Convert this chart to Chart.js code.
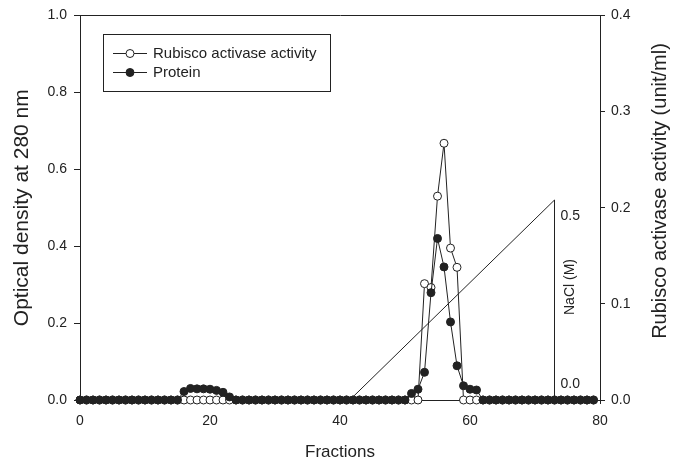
<!DOCTYPE html>
<html>
<head>
<meta charset="utf-8">
<script src="https://cdn.jsdelivr.net/npm/chart.js@4"></script>
<style>
  body { margin: 0; background: #fff; }
  #wrap { width: 680px; height: 467px; }
</style>
</head>
<body>
<div id="wrap"><canvas id="myChart"></canvas></div>
<script>
// Fraksi (sumbu X)
const fractions = [
  0, 1, 2, 3, 4, 5, 6, 7, 8, 9, 10, 11, 12, 13, 14, 15, 16, 17, 18, 19,
  20, 21, 22, 23, 24, 25, 26, 27, 28, 29, 30, 31, 32, 33, 34, 35, 36, 37, 38, 39,
  40, 41, 42, 43, 44, 45, 46, 47, 48, 49, 50, 51, 52, 53, 54, 55, 56, 57, 58, 59,
  60, 61, 62, 63, 64, 65, 66, 67, 68, 69, 70, 71, 72, 73, 74, 75, 76, 77, 78, 79
];

// Protein (OD 280 nm, sumbu kiri)
const protein = [
  0, 0, 0, 0, 0, 0, 0, 0, 0, 0, 0, 0, 0, 0, 0, 0, 0.022, 0.030, 0.029, 0.029,
  0.028, 0.025, 0.020, 0.008, 0, 0, 0, 0, 0, 0, 0, 0, 0, 0, 0, 0, 0, 0, 0, 0,
  0, 0, 0, 0, 0, 0, 0, 0, 0, 0, 0, 0.017, 0.028, 0.072, 0.279, 0.420, 0.346, 0.203, 0.089, 0.037,
  0.028, 0.026, 0, 0, 0, 0, 0, 0, 0, 0, 0, 0, 0, 0, 0, 0, 0, 0, 0, 0
];

// Aktivitas Rubisco activase (unit/ml, sumbu kanan)
const activity = [
  0, 0, 0, 0, 0, 0, 0, 0, 0, 0, 0, 0, 0, 0, 0, 0, 0, 0, 0, 0,
  0, 0, 0, 0, 0, 0, 0, 0, 0, 0, 0, 0, 0, 0, 0, 0, 0, 0, 0, 0,
  0, 0, 0, 0, 0, 0, 0, 0, 0, 0, 0, 0, 0, 0.121, 0.117, 0.212, 0.267, 0.158, 0.138, 0,
  0, 0, 0, 0, 0, 0, 0, 0, 0, 0, 0, 0, 0, 0, 0, 0, 0, 0, 0, 0
];

// Gradien NaCl (digambar pada skala sumbu kiri)
const naclX = [41.5, 73, 73];
const naclY = [0, 0.52, 0];

const leftTicks = [0, 0.2, 0.4, 0.6, 0.8, 1.0];
const rightTicks = [0, 0.1, 0.2, 0.3, 0.4];
const xTicks = [0, 20, 40, 60, 80];

const FONT = "'Liberation Sans', Arial, sans-serif";
const INK = '#222';

const toPoints = (xs, ys) => xs.map((x, i) => ({ x: x, y: ys[i] }));

// Plugin: legenda berbingkai, label NaCl, judul sumbu kanan
const extras = {
  id: 'extras',
  afterDraw(chart) {
    const c = chart.ctx;
    const xs = chart.scales.x, ys = chart.scales.y;
    c.save();
    // kotak legenda
    c.strokeStyle = INK;
    c.lineWidth = 1;
    c.strokeRect(103.5, 34.5, 227, 57);
    const rows = [
      { text: 'Rubisco activase activity', fill: '#fff', y: 53 },
      { text: 'Protein', fill: INK, y: 72 }
    ];
    c.font = '15px ' + FONT;
    c.textBaseline = 'middle';
    rows.forEach(r => {
      c.beginPath();
      c.moveTo(113, r.y + 0.5);
      c.lineTo(147, r.y + 0.5);
      c.stroke();
      c.beginPath();
      c.arc(130, r.y + 0.5, 4, 0, Math.PI * 2);
      c.fillStyle = r.fill;
      c.fill();
      c.stroke();
      c.fillStyle = INK;
      c.fillText(r.text, 153, r.y + 1);
    });
    // label NaCl
    const vx = xs.getPixelForValue(naclX[1]);
    c.font = '14px ' + FONT;
    c.fillStyle = INK;
    c.textAlign = 'left';
    c.fillText('0.5', vx + 6, ys.getPixelForValue(naclY[1]) + 16);
    c.fillText('0.0', vx + 6, ys.getPixelForValue(0) - 16);
    c.save();
    c.translate(vx + 16, 287);
    c.rotate(-Math.PI / 2);
    c.textAlign = 'center';
    c.fillText('NaCl (M)', 0, 0);
    c.restore();
    // judul sumbu kanan (dibaca dari bawah ke atas)
    c.save();
    c.font = '20px ' + FONT;
    c.translate(660, 191);
    c.rotate(-Math.PI / 2);
    c.textAlign = 'center';
    c.fillText('Rubisco activase activity (unit/ml)', 0, 0);
    c.restore();
    c.restore();
  }
};

const ctx = document.getElementById('myChart').getContext('2d');

const myChart = new Chart(ctx, {
  type: 'line',
  data: {
    datasets: [
      {
        label: 'Rubisco activase activity',
        data: toPoints(fractions, activity),
        yAxisID: 'y2',
        borderColor: INK,
        borderWidth: 1,
        backgroundColor: '#fff',
        pointBackgroundColor: '#fff',
        pointBorderColor: INK,
        pointBorderWidth: 1,
        pointRadius: 4,
        order: 1,
        clip: false
      },
      {
        label: 'Protein',
        data: toPoints(fractions, protein),
        yAxisID: 'y',
        borderColor: INK,
        borderWidth: 1,
        pointBackgroundColor: INK,
        pointBorderColor: INK,
        pointBorderWidth: 1,
        pointRadius: 4,
        order: 0,
        clip: false
      },
      {
        label: 'NaCl',
        data: toPoints(naclX, naclY),
        yAxisID: 'y',
        borderColor: INK,
        borderWidth: 1,
        pointRadius: 0,
        order: 2,
        clip: false
      }
    ]
  },
  options: {
    responsive: true,
    maintainAspectRatio: false,
    animation: false,
    layout: { padding: 0 },
    plugins: {
      legend: { display: false },
      tooltip: { enabled: false }
    },
    scales: {
      x: {
        type: 'linear',
        position: 'bottom',
        min: 0,
        max: 80,
        afterBuildTicks: s => { s.ticks = xTicks.map(v => ({ value: v })); },
        afterFit: s => { s.height = 67; },
        ticks: { color: INK, font: { family: FONT, size: 14 }, padding: 9 },
        grid: { display: true, drawOnChartArea: false, drawTicks: true, tickLength: 4, color: INK },
        border: { display: true, color: INK, width: 1 },
        title: { display: true, text: 'Fractions', color: INK, font: { family: FONT, size: 17 }, padding: { top: 0, bottom: 4 } }
      },
      xTop: {
        type: 'linear',
        position: 'top',
        min: 0,
        max: 80,
        afterFit: s => { s.height = 14; },
        ticks: { display: false },
        grid: { display: false },
        border: { display: true, color: INK, width: 1 }
      },
      y: {
        position: 'left',
        min: 0,
        max: 1,
        afterBuildTicks: s => { s.ticks = leftTicks.map(v => ({ value: v })); },
        afterFit: s => { s.width = 80; },
        ticks: { color: INK, font: { family: FONT, size: 14 }, padding: 7, callback: v => v.toFixed(1) },
        grid: { display: true, drawOnChartArea: false, drawTicks: true, tickLength: 6, color: INK },
        border: { display: true, color: INK, width: 1 },
        title: { display: true, text: 'Optical density at 280 nm', color: INK, font: { family: FONT, size: 21 }, padding: { top: 10, bottom: 0 } }
      },
      y2: {
        position: 'right',
        min: 0,
        max: 0.4,
        afterBuildTicks: s => { s.ticks = rightTicks.map(v => ({ value: v })); },
        afterFit: s => { s.width = 80; },
        ticks: { color: INK, font: { family: FONT, size: 14 }, padding: 6, callback: v => v.toFixed(1) },
        grid: { display: true, drawOnChartArea: false, drawTicks: true, tickLength: 5, color: INK },
        border: { display: true, color: INK, width: 1 }
      }
    }
  },
  plugins: [extras]
});
</script>
</body>
</html>
